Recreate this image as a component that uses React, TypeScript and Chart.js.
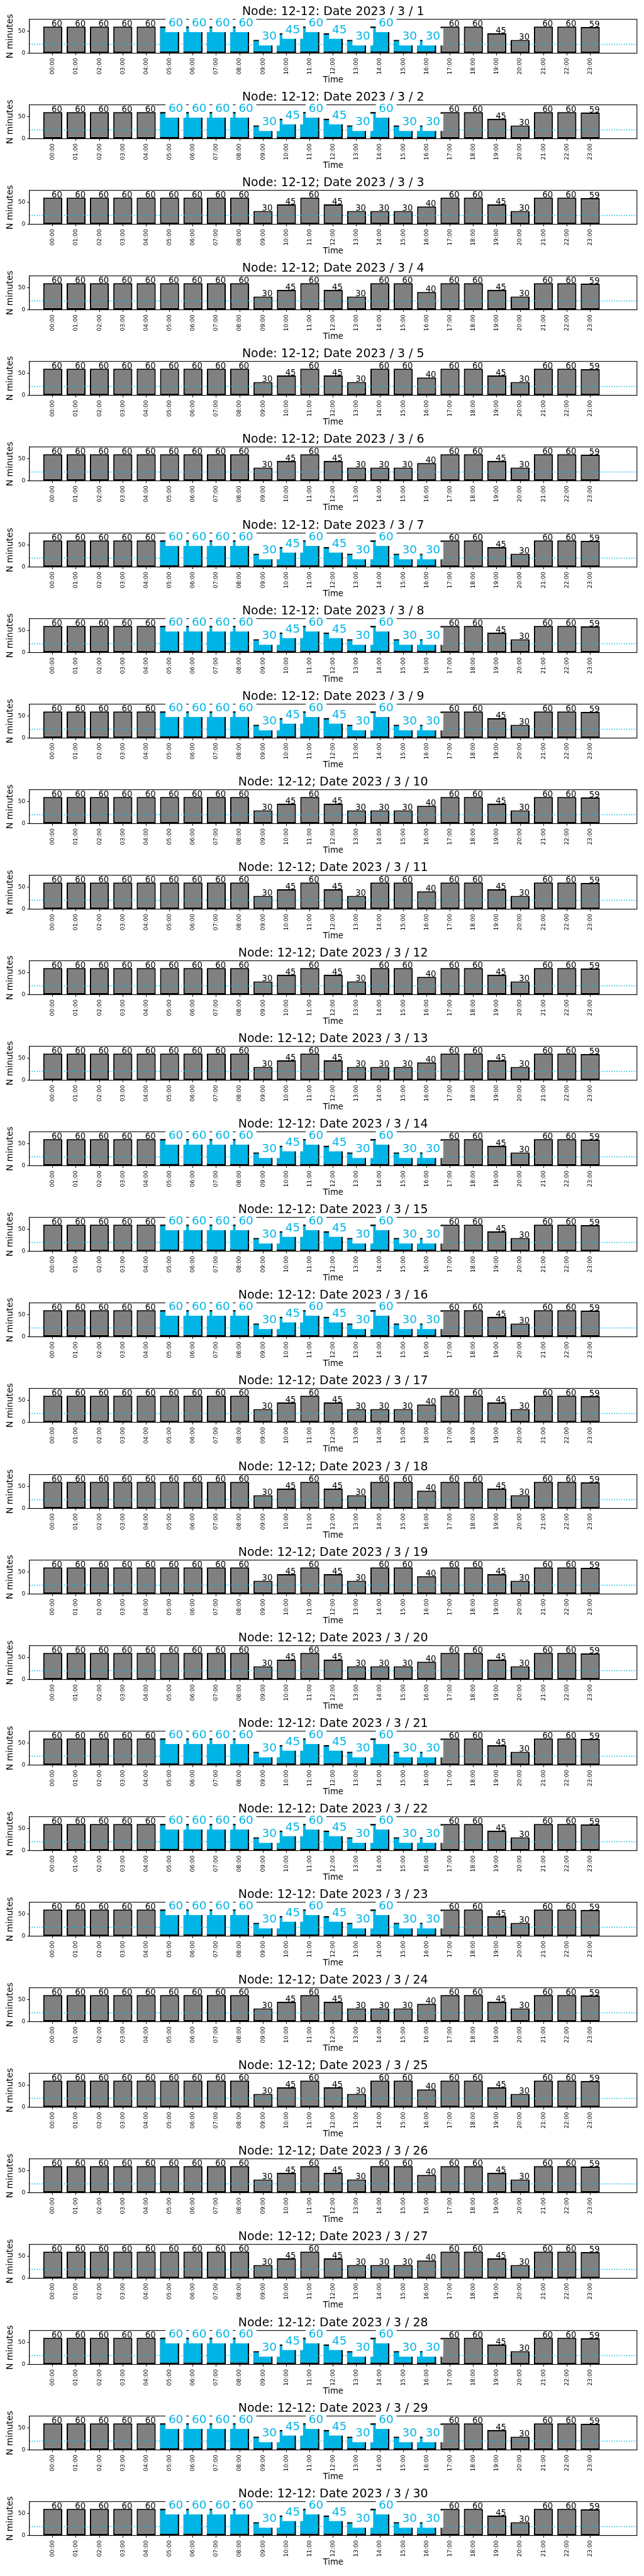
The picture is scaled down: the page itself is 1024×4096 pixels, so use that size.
import React, { useEffect, useRef } from "react";
import { Chart, registerables } from "chart.js";

Chart.register(...registerables);

// ---------------- data ----------------
const HOUR_LABELS = [
  "00:00", "01:00", "02:00", "03:00", "04:00", "05:00", "06:00", "07:00",
  "08:00", "09:00", "10:00", "11:00", "12:00", "13:00", "14:00", "15:00",
  "16:00", "17:00", "18:00", "19:00", "20:00", "21:00", "22:00", "23:00",
];
const HOURS = [0, 1, 2, 3, 4, 5, 6, 7, 8, 9, 10, 11, 12, 13, 14, 15, 16, 17, 18, 19, 20, 21, 22, 23];

const TITLE_PREFIX = "Node: 12-12; Date 2023 / 3 / ";
const DAYS = [1, 2, 3, 4, 5, 6, 7, 8, 9, 10, 11, 12, 13, 14, 15, 16, 17, 18, 19, 20, 21, 22, 23, 24, 25, 26, 27, 28, 29, 30];

// minutes per hour, per day-type
const minutesHighlighted = [60, 60, 60, 60, 60, 60, 60, 60, 60, 30, 45, 60, 45, 30, 60, 30, 30, 60, 60, 45, 30, 60, 60, 59];
const minutesTypeA = [60, 60, 60, 60, 60, 60, 60, 60, 60, 30, 45, 60, 45, 30, 30, 30, 40, 60, 60, 45, 30, 60, 60, 59];
const minutesTypeB = [60, 60, 60, 60, 60, 60, 60, 60, 60, 30, 45, 60, 45, 30, 60, 60, 40, 60, 60, 45, 30, 60, 60, 59];

// which minutes list belongs to each day (index into DAYS)
const DAY_TYPE = [
  "H", "H", "A", "B", "B", "A", "H", "H", "H", "A",
  "B", "B", "A", "H", "H", "H", "A", "B", "B", "A",
  "H", "H", "H", "A", "B", "B", "A", "H", "H", "H",
];
const HIGHLIGHT_HOURS = [5, 6, 7, 8, 9, 10, 11, 12, 13, 14, 15, 16];
const THRESHOLD = 20;
const Y_TICKS = [0, 50];
const Y_MAX = 76.4;

// ---------------- style ----------------
const S = 0.682;
const PANEL_H = 199.55 * S;
const CANVAS_H = 136;
const BLUE = "#00b4e6";
const GRAY = "#808080";
const FONT = "'DejaVu Sans', sans-serif";

function minutesFor(type: string): number[] {
  if (type === "H") return minutesHighlighted;
  if (type === "A") return minutesTypeA;
  return minutesTypeB;
}

const panelPlugin = {
  id: "panelDecor",
  afterDatasetsDraw(chart: any) {
    const { ctx, chartArea } = chart;
    const y = chart.scales.y;
    const opts = chart.options.plugins.panelDecor;
    ctx.save();
    // threshold dotted line
    ctx.strokeStyle = BLUE;
    ctx.lineWidth = 2.2 * S;
    ctx.setLineDash([2.2 * S, 3.6 * S]);
    const ty = y.getPixelForValue(THRESHOLD);
    ctx.beginPath();
    ctx.moveTo(chartArea.left, ty);
    ctx.lineTo(chartArea.right, ty);
    ctx.stroke();
    ctx.setLineDash([]);
    // spines
    ctx.strokeStyle = "#000";
    ctx.lineWidth = 1.1;
    ctx.strokeRect(chartArea.left, chartArea.top, chartArea.right - chartArea.left, chartArea.bottom - chartArea.top);
    // value labels
    const meta = chart.getDatasetMeta(1);
    const values: number[] = opts.values;
    const hl: boolean = opts.highlight;
    meta.data.forEach((bar: any, i: number) => {
      const v = values[i];
      const isHl = hl && HIGHLIGHT_HOURS.indexOf(i) >= 0;
      const baseX = bar.x - 2.5 * S;
      const baseY = y.getPixelForValue(v);
      ctx.textAlign = "left";
      ctx.textBaseline = "alphabetic";
      if (isHl) {
        const fs = 27 * S;
        ctx.font = `${fs}px ${FONT}`;
        const w = ctx.measureText(String(v)).width;
        ctx.fillStyle = "#fff";
        ctx.fillRect(baseX - 7 * S, baseY - 27 * S, w + 14 * S, 40 * S);
        ctx.fillStyle = BLUE;
        ctx.fillText(String(v), baseX, baseY);
      } else {
        ctx.font = `${19.4 * S}px ${FONT}`;
        ctx.fillStyle = "#000";
        ctx.fillText(String(v), baseX, baseY);
      }
    });
    ctx.restore();
  },
};

function Panel({ day, idx }: { day: number; idx: number }) {
  const ref = useRef<HTMLCanvasElement | null>(null);
  useEffect(() => {
    if (!ref.current) return;
    const type = DAY_TYPE[idx];
    const values = minutesFor(type);
    const highlight = type === "H";
    const grayData = HOURS.map((h) => ({ x: h, y: values[h] }));
    const blueData = HOURS.map((h) => ({ x: h, y: highlight && HIGHLIGHT_HOURS.indexOf(h) >= 0 ? values[h] : null }));
    const chart = new Chart(ref.current, {
      type: "bar",
      data: {
        datasets: [
          {
            data: blueData as any,
            backgroundColor: BLUE,
            borderColor: "#000",
            borderWidth: { top: 2.2, right: 2.2, bottom: 2.2, left: 0 } as any,
            borderSkipped: false,
            grouped: false,
            barPercentage: 0.816,
            categoryPercentage: 1,
            order: 1,
          },
          {
            data: grayData as any,
            backgroundColor: GRAY,
            borderColor: "#000",
            borderWidth: 2.2,
            borderSkipped: false,
            grouped: false,
            barPercentage: 0.816,
            categoryPercentage: 1,
            order: 2,
          },
        ],
      },
      options: {
        animation: false,
        responsive: false,
        devicePixelRatio: 1,
        layout: { padding: { left: 0, right: 11.2, top: 0, bottom: 0 } },
        plugins: {
          legend: { display: false },
          tooltip: { enabled: false },
          title: {
            display: true,
            text: TITLE_PREFIX + day,
            fullSize: false,
            color: "#000",
            font: { family: FONT, size: 27.8 * S, weight: "normal", lineHeight: 1 },
            padding: { top: 9.5, bottom: 2.2 },
          },
          panelDecor: { values, highlight },
        } as any,
        scales: {
          x: {
            type: "linear",
            min: -1,
            max: 25,
            offset: false,
            afterBuildTicks: (scale: any) => {
              scale.ticks = HOURS.map((h) => ({ value: h }));
            },
            afterFit: (scale: any) => {
              scale.height = CANVAS_H - 124 * S;
            },
            grid: { display: true, drawOnChartArea: false, drawTicks: true, tickLength: 3.4, color: "#000", offset: false },
            border: { display: true, color: "#000", width: 1.1 },
            ticks: {
              autoSkip: false,
              minRotation: 90,
              maxRotation: 90,
              padding: 4.2,
              color: "#000",
              font: { family: FONT, size: 13.4 * S },
              callback: (v: any) => HOUR_LABELS[Number(v)] ?? "",
            },
            title: {
              display: true,
              text: "Time",
              color: "#000",
              font: { family: FONT, size: 19.4 * S, lineHeight: 1 },
              padding: { top: 0, bottom: 1.9 },
            },
          },
          y: {
            type: "linear",
            min: 0,
            max: Y_MAX,
            afterBuildTicks: (scale: any) => {
              scale.ticks = Y_TICKS.map((v) => ({ value: v }));
            },
            afterFit: (scale: any) => {
              scale.width = 68.4 * S;
            },
            grid: { display: true, drawOnChartArea: false, drawTicks: true, tickLength: 3.4, color: "#000" },
            border: { display: true, color: "#000", width: 1.1 },
            ticks: {
              padding: 3,
              color: "#000",
              font: { family: FONT, size: 13.4 * S },
            },
            title: {
              display: true,
              text: "N minutes",
              color: "#000",
              font: { family: FONT, size: 20.3 * S, lineHeight: 1 },
              padding: { top: 9.5, bottom: 0 },
            },
          },
        },
      } as any,
      plugins: [panelPlugin],
    });
    return () => chart.destroy();
  }, [day, idx]);
  return (
    <canvas
      ref={ref}
      width={1024}
      height={CANVAS_H}
      style={{ position: "absolute", left: 0, top: Math.round(idx * PANEL_H), width: 1024, height: CANVAS_H }}
    />
  );
}

export default function App() {
  return (
    <div style={{ position: "absolute", left: 0, top: 0, width: 1024, height: 4096, background: "#fff" }}>
      {DAYS.map((d, i) => (
        <Panel key={d} day={d} idx={i} />
      ))}
    </div>
  );
}
